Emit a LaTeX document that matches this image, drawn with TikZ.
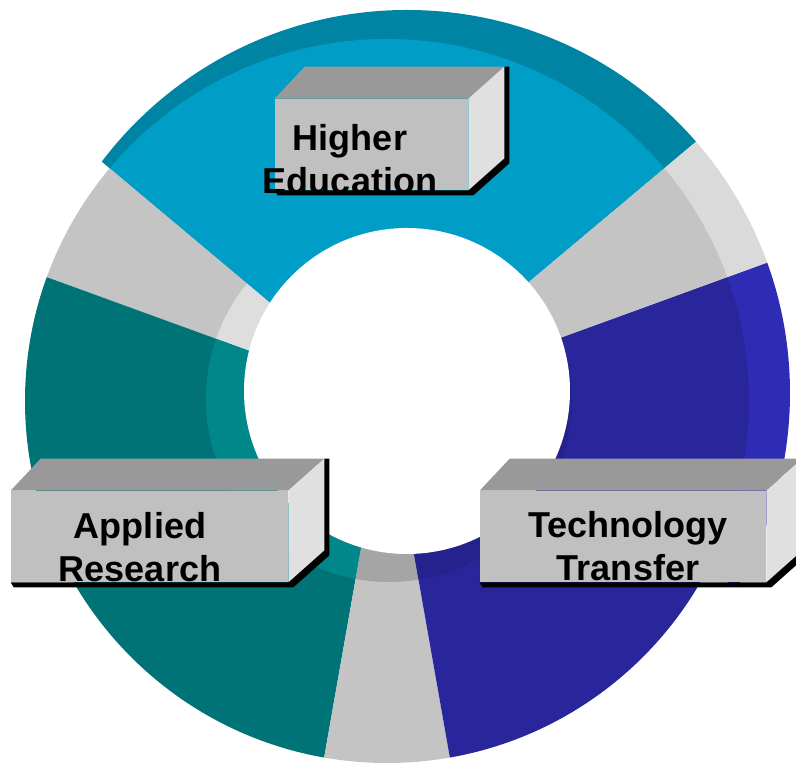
\documentclass[tikz,border=0pt]{standalone}
\usepackage{fontspec}
\setmainfont{Liberation Sans}
\definecolor{lbface}{RGB}{0,158,198}
\definecolor{lbside}{RGB}{0,132,164}
\definecolor{grface}{RGB}{196,196,196}
\definecolor{grside}{RGB}{218,218,218}
\definecolor{grinlight}{RGB}{222,222,222}
\definecolor{grindark}{RGB}{165,165,165}
\definecolor{tlface}{RGB}{0,115,119}
\definecolor{tlin}{RGB}{0,135,138}
\definecolor{dbface}{RGB}{40,38,154}
\definecolor{dbside}{RGB}{46,44,180}
\definecolor{dbin}{RGB}{36,34,140}
\definecolor{cubetop}{RGB}{153,153,153}
\definecolor{cubefront}{RGB}{192,192,192}
\definecolor{cubeside}{RGB}{224,224,224}
\tikzset{
  cube/.style={minimum height=1.82cm, inner sep=0pt},
  cubelabel/.style={align=center, inner sep=0pt, font=\bfseries\fontsize{20.5}{24.4}\selectfont}
}

\begin{document}
\begin{tikzpicture}[x=0.02cm, y=0.02cm]
\useasboundingbox (0,0) rectangle (796,763);
\clip (0,0) rectangle (796,763);
\coordinate (ctr) at (387,362);
% outer side of the ring (top and right only)
\begin{scope}
  \clip (ctr) -- ++(-28:600) arc[start angle=-28, end angle=140, radius=600] -- cycle;
  \clip (407,370) circle (383);
  \foreach \a/\b/\c in {40/140/lbside, 280/380/dbside, 20/40/grside}
    \fill[\c] (ctr) -- ++(\a:600) arc[start angle=\a, end angle=\b, radius=600] -- cycle;
\end{scope}
% top face
\begin{scope}
  \clip (ctr) circle (362);
  \foreach \a/\b/\c in {40/140/lbface, 140/160/grface, 160/260/tlface, 260/280/grface, 280/380/dbface, 20/40/grface}
    \fill[\c] (ctr) -- ++(\a:600) arc[start angle=\a, end angle=\b, radius=600] -- cycle;
\end{scope}
% inner wall
\begin{scope}
  \clip (389,364) circle (183);
  \foreach \a/\b/\c in {40/140/lbface, 140/160/grinlight, 160/260/tlin, 260/280/grindark, 280/380/dbin, 20/40/grface}
    \fill[\c] (ctr) -- ++(\a:600) arc[start angle=\a, end angle=\b, radius=600] -- cycle;
\end{scope}
\fill[white] (407,372) circle (163);

\node[cube, minimum width=3.86cm] (he) at (371.5,618.5) {};
\node[cube, minimum width=5.54cm] (ar) at (149.5,226.5) {};
\node[cube, minimum width=5.72cm] (tt) at (623,226.5) {};
\foreach \n in {he,ar,tt}
{
  \fill[black] ([shift={(3,-5)}]\n.south west) -- ([shift={(5,-5)}]\n.south east) -- ([shift={(41,27)}]\n.south east) -- ([shift={(41,32)}]\n.north east) -- ([shift={(36,32)}]\n.north east) -- (\n.south east) -- (\n.south west) -- cycle;
  \fill[cubefront] (\n.south west) rectangle (\n.north east);
  \fill[cubetop] (\n.north west) -- (\n.north east) -- ++(36,32) -- ([shift={(30,32)}]\n.north west) -- cycle;
  \fill[cubeside] (\n.north east) -- (\n.south east) -- ++(36,32) -- ([shift={(36,32)}]\n.north east) -- cycle;
}
\node[cubelabel] (het) at (350,604) {Higher\\Education};
\node[cubelabel] (art) at (140,216) {Applied\\Research};
\node[cubelabel] (ttt) at (628,217) {Technology\\Transfer};
\end{tikzpicture}
\end{document}
